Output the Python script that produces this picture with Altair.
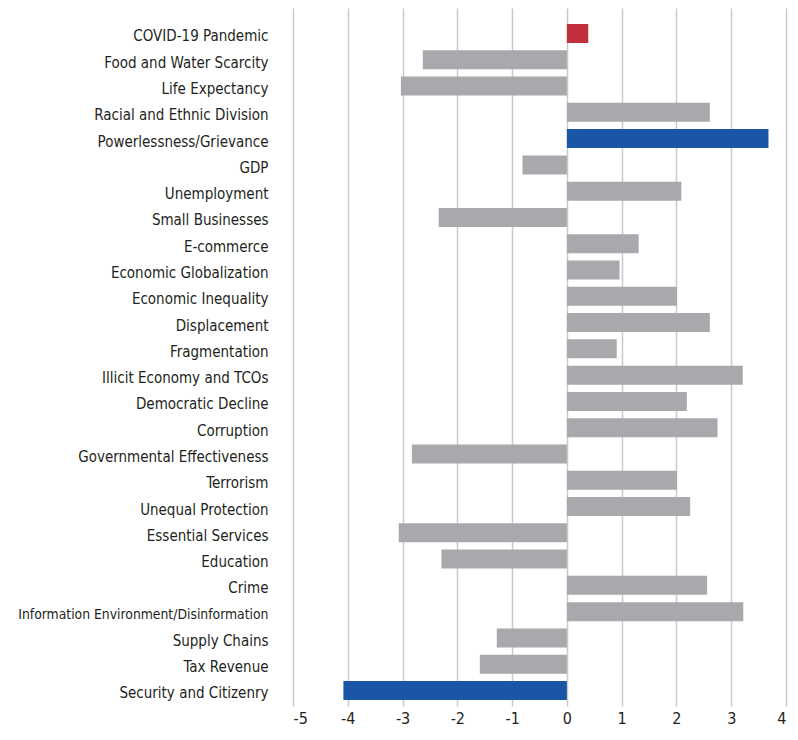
import altair as alt
import pandas as pd

categories = [
    "COVID-19 Pandemic", "Food and Water Scarcity", "Life Expectancy",
    "Racial and Ethnic Division", "Powerlessness/Grievance", "GDP",
    "Unemployment", "Small Businesses", "E-commerce", "Economic Globalization",
    "Economic Inequality", "Displacement", "Fragmentation",
    "Illicit Economy and TCOs", "Democratic Decline", "Corruption",
    "Governmental Effectiveness", "Terrorism", "Unequal Protection",
    "Essential Services", "Education", "Crime",
    "Information Environment/Disinformation", "Supply Chains", "Tax Revenue",
    "Security and Citizenry",
]
values = [
    0.39, -2.63, -3.03, 2.61, 3.68, -0.81, 2.09, -2.34, 1.31, 0.96,
    2.01, 2.61, 0.91, 3.21, 2.19, 2.75, -2.83, 2.01, 2.25, -3.07,
    -2.29, 2.56, 3.22, -1.28, -1.59, -4.08,
]
groups = [
    "covid", "other", "other", "other", "key", "other", "other", "other",
    "other", "other", "other", "other", "other", "other", "other", "other",
    "other", "other", "other", "other", "other", "other", "other", "other",
    "other", "key",
]
tick_values = [-5, -4, -3, -2, -1, 0, 1, 2, 3, 4]

df = pd.DataFrame({"category": categories, "value": values, "group": groups})

FONT = "DejaVu Sans Condensed"
LONG = "Information Environment/Disinformation"

chart = alt.Chart(df).mark_bar().encode(
    x=alt.X(
        "value:Q",
        scale=alt.Scale(domain=[-5, 4], nice=False, zero=True),
        axis=alt.Axis(
            values=tick_values, title=None, domain=False, ticks=False,
            grid=True, gridColor="#c9c9c9", gridWidth=1.5,
            labelFontSize=16, labelColor="#231f20", labelPadding=4,
            labelFont=FONT, labelExpr="'' + datum.value",
        ),
    ),
    y=alt.Y(
        "category:N", sort=categories,
        scale=alt.Scale(paddingInner=0.277, paddingOuter=0.4185, align=0.727),
        axis=alt.Axis(
            title=None, domain=False, ticks=False, grid=False,
            labelFontSize={"condition": {"test": f"datum.value == '{LONG}'", "value": 13.8}, "value": 15},
            labelColor="#231f20", labelPadding=25, labelOffset=3,
            labelFont=FONT, labelLimit=400,
        ),
    ),
    color=alt.Color(
        "group:N",
        scale=alt.Scale(domain=["covid", "other", "key"],
                        range=["#c1313d", "#a8a9ac", "#1957a6"]),
        legend=None,
    ),
).properties(
    width=493,
    height=698,
    autosize=alt.AutoSizeParams(type="none"),
    padding={"left": 285, "top": 0, "right": 4, "bottom": 22},
).configure_view(stroke=None)

chart.save("out.html", embed_options={"renderer": "svg", "actions": False})
